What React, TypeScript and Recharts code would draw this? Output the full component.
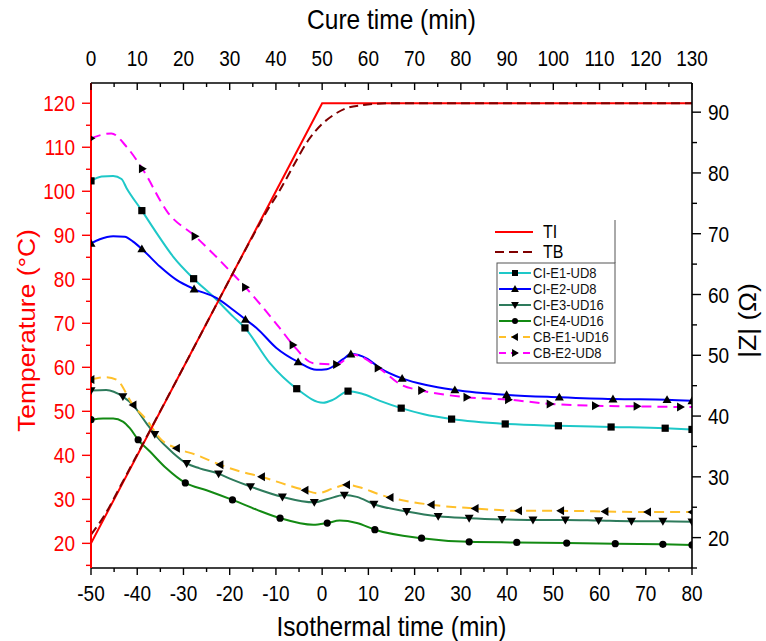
import React from 'react';
import { ComposedChart, Line, Scatter, XAxis, YAxis } from 'recharts';

const FONT = '"Liberation Sans", Arial, Helvetica, sans-serif';

// ---- tick values ----
const isoTicks = [-50, -45, -40, -35, -30, -25, -20, -15, -10, -5, 0, 5, 10, 15, 20, 25, 30, 35, 40, 45, 50, 55, 60, 65, 70, 75, 80];
const cureTicks = [0, 5, 10, 15, 20, 25, 30, 35, 40, 45, 50, 55, 60, 65, 70, 75, 80, 85, 90, 95, 100, 105, 110, 115, 120, 125, 130];
const tempTicks = [15, 20, 25, 30, 35, 40, 45, 50, 55, 60, 65, 70, 75, 80, 85, 90, 95, 100, 105, 110, 115, 120];
const zTicks = [15, 20, 25, 30, 35, 40, 45, 50, 55, 60, 65, 70, 75, 80, 85, 90];

// ---- temperature (isothermal time, °C) ----
const tiTime = [-50, 0, 80];
const tiTemp = [20, 120, 120];
const tbTime = [-50, -47, -44, -40, -35, -30, -25, -20, -15, -12, -9, -6, -3, 0, 2.4, 5.3, 8.9, 11.8, 15, 80];
const tbTemp = [22, 26.5, 32.3, 40.2, 50.1, 60, 70, 80, 89.8, 95.4, 100.5, 106.2, 111.6, 115.3, 117.3, 118.9, 119.6, 119.9, 120, 120];

// ---- |Z| curves (isothermal time, Ω) ----
const e1Time = [-50, -47.7, -45.2, -43.4, -42.3, -39.0, -35.8, -32.2, -27.8, -23.6, -19.3, -16.7, -11.3, -5.5, 0.2, 2.4, 5.6, 8.5, 12.5, 17.1, 22, 28.0, 39.6, 51.1, 62.5, 74.2, 80];
const e1Z = [78.7, 79.4, 79.5, 79.0, 77.5, 73.8, 70.1, 66.2, 62.6, 59.7, 56.4, 54.5, 48.7, 44.5, 42.2, 42.7, 44.1, 43.7, 42.5, 41.3, 40.3, 39.5, 38.7, 38.4, 38.2, 38.0, 37.8];
const e1MarkTime = [-50, -39.0, -27.8, -16.7, -5.5, 5.6, 17.1, 28.0, 39.6, 51.1, 62.5, 74.2, 80];
const e1MarkZ = [78.7, 73.8, 62.6, 54.5, 44.5, 44.1, 41.3, 39.5, 38.7, 38.4, 38.2, 38.0, 37.8];

const e2Time = [-50, -48.1, -45.2, -42.7, -40.9, -39.0, -35.1, -31.5, -27.7, -22.8, -19.3, -16.6, -14.2, -9.9, -5.2, -1.2, 1.0, 4.6, 6.2, 9.6, 12.5, 17.3, 22.5, 28.7, 39.9, 51.3, 62.9, 74.6, 80];
const e2Z = [68.4, 69.1, 69.6, 69.5, 68.7, 67.5, 64.6, 62.4, 60.9, 59.4, 57.5, 55.9, 54.5, 51.2, 48.9, 47.6, 47.7, 49.4, 50.2, 49.5, 47.9, 46.2, 45.1, 44.3, 43.5, 43.1, 42.8, 42.7, 42.5];
const e2MarkTime = [-50, -39.0, -27.7, -16.6, -5.2, 6.2, 17.3, 28.7, 39.9, 51.3, 62.9, 74.6, 80];
const e2MarkZ = [68.4, 67.5, 60.9, 55.9, 48.9, 50.2, 46.2, 44.3, 43.5, 43.1, 42.8, 42.7, 42.5];

const e3Time = [-50, -46.7, -43.1, -40.9, -38.0, -36.2, -32.2, -29.3, -26.5, -22.4, -19.3, -15.5, -8.6, -1.7, 1.0, 4.8, 7.5, 11.2, 18.3, 25.1, 31.8, 38.9, 45.6, 52.6, 59.8, 66.9, 73.7, 80];
const e3Z = [44.2, 44.3, 43.2, 41.8, 38.8, 37.0, 33.9, 32.2, 31.4, 30.5, 29.5, 28.4, 26.7, 25.8, 26.3, 27.0, 26.7, 25.5, 24.3, 23.5, 23.2, 23.0, 22.9, 22.9, 22.8, 22.7, 22.7, 22.6];
const e3MarkTime = [-50, -43.1, -36.2, -29.3, -22.4, -15.5, -8.6, -1.7, 4.8, 11.2, 18.3, 25.1, 31.8, 38.9, 45.6, 52.6, 59.8, 66.9, 73.7, 80];
const e3MarkZ = [44.2, 43.2, 37.0, 32.2, 30.5, 28.4, 26.7, 25.8, 27.0, 25.5, 24.3, 23.5, 23.2, 23.0, 22.9, 22.9, 22.8, 22.7, 22.7, 22.6];

const e4Time = [-50, -47.4, -45.2, -43.1, -41.6, -39.8, -37.3, -33.7, -29.6, -25.0, -19.4, -14.2, -9.1, -1.9, 1.1, 3.8, 7.5, 11.4, 21.5, 31.8, 42.1, 52.9, 63.4, 73.7, 80];
const e4Z = [39.4, 39.6, 39.6, 39.1, 38.0, 36.1, 34.2, 31.4, 29.0, 27.8, 26.2, 24.6, 23.2, 22.1, 22.4, 22.8, 22.4, 21.3, 19.9, 19.3, 19.2, 19.1, 19.0, 18.9, 18.8];
const e4MarkTime = [-50, -39.8, -29.6, -19.4, -9.1, 1.1, 11.4, 21.5, 31.8, 42.1, 52.9, 63.4, 73.7, 80];
const e4MarkZ = [39.4, 36.1, 29.0, 26.2, 23.2, 22.4, 21.3, 19.9, 19.3, 19.2, 19.1, 19.0, 18.9, 18.8];

const b1Time = [-50, -46.7, -44.5, -40.9, -38.0, -34.8, -31.5, -27.2, -22.1, -17.8, -13.1, -7.7, -3.7, -0.9, 2.4, 5.3, 8.9, 12.0, 14.7, 23.6, 33.1, 42.5, 51.6, 61.2, 70.4, 80];
const b1Z = [46.0, 46.4, 46.0, 41.8, 39.4, 36.1, 34.7, 33.6, 32.0, 30.9, 30.0, 28.7, 27.8, 27.3, 28.1, 28.7, 28.1, 27.2, 26.6, 25.4, 24.8, 24.4, 24.4, 24.3, 24.2, 24.2];
const b1MarkTime = [-50, -40.9, -31.5, -22.1, -13.1, -3.7, 5.3, 14.7, 23.6, 33.1, 42.5, 51.6, 61.2, 70.4, 80];
const b1MarkZ = [46.0, 41.8, 34.7, 32.0, 30.0, 27.8, 28.7, 26.6, 25.4, 24.8, 24.4, 24.4, 24.3, 24.2, 24.2];

const b2Time = [-50, -45.6, -42.3, -38.9, -33.3, -27.5, -22.9, -19.6, -16.6, -9.2, -6.3, -1.9, 3.1, 6.7, 12.3, 17.2, 21.5, 31.3, 40.3, 49.3, 59.1, 68.1, 77.5, 80];
const b2Z = [85.7, 86.5, 84.3, 80.7, 73.4, 69.6, 66.2, 63.6, 61.2, 54.5, 51.7, 48.7, 48.5, 50.1, 47.9, 45.1, 44.2, 43.1, 42.7, 42.0, 41.7, 41.6, 41.5, 41.5];
const b2MarkTime = [-50, -38.9, -27.5, -16.6, -6.3, 3.1, 12.1, 21.5, 31.3, 40.3, 49.3, 59.1, 68.1, 77.5];
const b2MarkZ = [85.7, 80.7, 69.6, 61.2, 51.7, 48.5, 47.9, 44.2, 43.1, 42.7, 42.0, 41.7, 41.6, 41.5];

const seriesNames = ['CI-E1-UD8', 'CI-E2-UD8', 'CI-E3-UD16', 'CI-E4-UD16', 'CB-E1-UD16', 'CB-E2-UD8'];

type Mk = 'square' | 'up' | 'down' | 'circle' | 'left' | 'right';

const pts = (xs: number[], ys: number[]) => xs.map((x, i) => ({ x, y: ys[i] }));

const series = [
  { name: seriesNames[0], color: '#1ec8c8', dash: undefined as string | undefined, mk: 'square' as Mk, line: pts(e1Time, e1Z), marks: pts(e1MarkTime, e1MarkZ) },
  { name: seriesNames[1], color: '#0000ff', dash: undefined, mk: 'up' as Mk, line: pts(e2Time, e2Z), marks: pts(e2MarkTime, e2MarkZ) },
  { name: seriesNames[2], color: '#2e7b5c', dash: undefined, mk: 'down' as Mk, line: pts(e3Time, e3Z), marks: pts(e3MarkTime, e3MarkZ) },
  { name: seriesNames[3], color: '#138a13', dash: undefined, mk: 'circle' as Mk, line: pts(e4Time, e4Z), marks: pts(e4MarkTime, e4MarkZ) },
  { name: seriesNames[4], color: '#ffc02a', dash: '10 6', mk: 'left' as Mk, line: pts(b1Time, b1Z), marks: pts(b1MarkTime, b1MarkZ) },
  { name: seriesNames[5], color: '#ff00ff', dash: '10 6', mk: 'right' as Mk, line: pts(b2Time, b2Z), marks: pts(b2MarkTime, b2MarkZ) },
];

function MarkerShape({ type, cx, cy, s = 3.6 }: { type: Mk; cx: number; cy: number; s?: number }) {
  const t = s + 0.9;
  switch (type) {
    case 'square':
      return <rect x={cx - s} y={cy - s} width={2 * s} height={2 * s} fill="#000" />;
    case 'circle':
      return <circle cx={cx} cy={cy} r={s} fill="#000" />;
    case 'up':
      return <polygon points={`${cx},${cy - t} ${cx + t},${cy + t * 0.75} ${cx - t},${cy + t * 0.75}`} fill="#000" />;
    case 'down':
      return <polygon points={`${cx},${cy + t} ${cx + t},${cy - t * 0.75} ${cx - t},${cy - t * 0.75}`} fill="#000" />;
    case 'left':
      return <polygon points={`${cx - t},${cy} ${cx + t * 0.75},${cy - t} ${cx + t * 0.75},${cy + t}`} fill="#000" />;
    case 'right':
      return <polygon points={`${cx + t},${cy} ${cx - t * 0.75},${cy - t} ${cx - t * 0.75},${cy + t}`} fill="#000" />;
  }
  return null;
}

const isMajor = (v: number) => Math.abs(v % 10) < 1e-6;
const TICK_FS = 19;
const STRETCH = 1.18;

// text drawn with a slight vertical stretch, as in the reference image
function SText({ x, y, anchor, color, size, children }: any) {
  return (
    <text transform={`translate(${x},${y}) scale(1,${STRETCH})`} x={0} y={0} textAnchor={anchor}
      dominantBaseline="central" fontSize={size} fontFamily={FONT} fill={color}>
      {children}
    </text>
  );
}

const BottomTick = (p: any) => {
  const { x, y, payload } = p;
  const v = payload.value;
  const major = isMajor(v);
  return (
    <g>
      <line x1={x} y1={y} x2={x} y2={y + (major ? 7 : 4)} stroke="#000" strokeWidth={1.4} />
      {major && <SText x={x} y={y + 25} anchor="middle" color="#000" size={TICK_FS}>{v}</SText>}
    </g>
  );
};

const TopTick = (p: any) => {
  const { x, y, payload } = p;
  const v = payload.value;
  const major = isMajor(v);
  return (
    <g>
      <line x1={x} y1={y} x2={x} y2={y + (major ? 7 : 4)} stroke="#000" strokeWidth={1.4} />
      {major && <SText x={x} y={y - 25} anchor="middle" color="#000" size={TICK_FS}>{v}</SText>}
    </g>
  );
};

const LeftTick = (p: any) => {
  const { x, y, payload } = p;
  const v = payload.value;
  const major = isMajor(v);
  return (
    <g>
      <line x1={x} y1={y} x2={x - (major ? 9 : 5)} y2={y} stroke="#ff0000" strokeWidth={1.4} />
      {major && <SText x={x - 16} y={y} anchor="end" color="#ff0000" size={TICK_FS}>{v}</SText>}
    </g>
  );
};

const RightTick = (p: any) => {
  const { x, y, payload } = p;
  const v = payload.value;
  const major = isMajor(v);
  return (
    <g>
      <line x1={x} y1={y} x2={x + (major ? 9 : 5)} y2={y} stroke="#000" strokeWidth={1.4} />
      {major && <SText x={x + 16} y={y} anchor="start" color="#000" size={TICK_FS}>{v}</SText>}
    </g>
  );
};

const title = (text: string, where: 'top' | 'bottom' | 'left' | 'right', color = '#000') => (props: any) => {
  const vb = props.viewBox;
  if (where === 'top' || where === 'bottom') {
    const x = vb.x + vb.width / 2;
    const y = where === 'top' ? vb.y - 3 : vb.y + 59;
    return (
      <text transform={`translate(${x},${y}) scale(1,1.1)`} x={0} y={0} textAnchor="middle" dominantBaseline="central"
        fontSize={24.5} fontFamily={FONT} fill={color}>
        {text}
      </text>
    );
  }
  const x = where === 'left' ? vb.x - 5 : vb.x + 55;
  const y = where === 'left' ? vb.y + vb.height / 2 + 5 : vb.y + vb.height / 2 - 5;
  return (
    <text transform={`translate(${x},${y}) rotate(-90) scale(1.1,1)`} x={0} y={0} textAnchor="middle" dominantBaseline="central"
      fontSize={24} fontFamily={FONT} fill={color}>
      {text}
    </text>
  );
};

function Legends() {
  const rowY = [273, 289, 305, 321, 337, 353];
  return (
    <svg width={766} height={641} style={{ position: 'absolute', left: 0, top: 0, pointerEvents: 'none' }}>
      {/* TI / TB legend */}
      <rect x={482} y={220} width={133} height={42} fill="#fff" stroke="none" />
      <line x1={615} y1={220} x2={615} y2={263} stroke="#555" strokeWidth={1} />
      <line x1={495} y1={232} x2={533} y2={232} stroke="#ff0000" strokeWidth={2} />
      <SText x={543} y={232} anchor="start" color="#000" size={16}>TI</SText>
      <line x1={495} y1={252} x2={533} y2={252} stroke="#800000" strokeWidth={2} strokeDasharray="9 5" />
      <SText x={543} y={252} anchor="start" color="#000" size={16}>TB</SText>
      {/* series legend */}
      <rect x={497} y={263} width={118} height={100} fill="#fff" stroke="#555" strokeWidth={1} />
      {series.map((s, i) => (
        <g key={s.name}>
          <line x1={499} y1={rowY[i]} x2={531} y2={rowY[i]} stroke={s.color} strokeWidth={2} strokeDasharray={s.dash ? '7 5' : undefined} />
          <MarkerShape type={s.mk} cx={515} cy={rowY[i]} s={3} />
          <SText x={533} y={rowY[i]} anchor="start" color="#111" size={13}>{s.name}</SText>
        </g>
      ))}
    </svg>
  );
}

export default function App() {
  return (
    <div style={{ position: 'absolute', left: 0, top: 0, width: 766, height: 641, background: '#fff', fontFamily: FONT }}>
      <ComposedChart width={766} height={641} margin={{ top: 23, right: 14, bottom: 13, left: 31 }}>
        <XAxis xAxisId="b" dataKey="x" type="number" orientation="bottom" domain={[-50, 80]} allowDataOverflow
          ticks={isoTicks} interval={0} tickSize={0} tickMargin={0} tick={BottomTick} height={60}
          axisLine={{ stroke: '#000', strokeWidth: 1.6 }} label={{ content: title('Isothermal time (min)', 'bottom') }} />
        <XAxis xAxisId="t" dataKey="x" type="number" orientation="top" domain={[0, 130]} allowDataOverflow
          ticks={cureTicks} interval={0} tickSize={0} tickMargin={0} tick={TopTick} height={60}
          axisLine={{ stroke: '#000', strokeWidth: 1.6 }} label={{ content: title('Cure time (min)', 'top') }} />
        <YAxis yAxisId="l" dataKey="y" type="number" orientation="left" domain={[14.4, 124.6]} allowDataOverflow
          ticks={tempTicks} interval={0} tickSize={0} tickMargin={0} tick={LeftTick} width={60}
          axisLine={{ stroke: '#ff0000', strokeWidth: 2 }} label={{ content: title('Temperature (°C)', 'left', '#ff0000') }} />
        <YAxis yAxisId="r" dataKey="y" type="number" orientation="right" domain={[15, 94.8]} allowDataOverflow
          ticks={zTicks} interval={0} tickSize={0} tickMargin={0} tick={RightTick} width={60}
          axisLine={{ stroke: '#000', strokeWidth: 1.6 }} label={{ content: title('|Z| (Ω)', 'right') }} />

        {series.map((s) => (
          <Line key={s.name} xAxisId="b" yAxisId="r" data={s.line} dataKey="y" type="monotone" stroke={s.color}
            strokeWidth={2} strokeDasharray={s.dash} dot={false} activeDot={false} isAnimationActive={false} />
        ))}
        <Line xAxisId="b" yAxisId="l" data={pts(tiTime, tiTemp)} dataKey="y" type="linear" stroke="#ff0000"
          strokeWidth={2} dot={false} activeDot={false} isAnimationActive={false} />
        <Line xAxisId="b" yAxisId="l" data={pts(tbTime, tbTemp)} dataKey="y" type="monotone" stroke="#800000"
          strokeWidth={2} strokeDasharray="9 5" dot={false} activeDot={false} isAnimationActive={false} />
        {series.map((s) => (
          <Scatter key={s.name + '-m'} xAxisId="b" yAxisId="r" data={s.marks} dataKey="y" isAnimationActive={false}
            shape={(p: any) => <MarkerShape type={s.mk} cx={p.cx} cy={p.cy} />} />
        ))}
      </ComposedChart>
      <Legends />
    </div>
  );
}
